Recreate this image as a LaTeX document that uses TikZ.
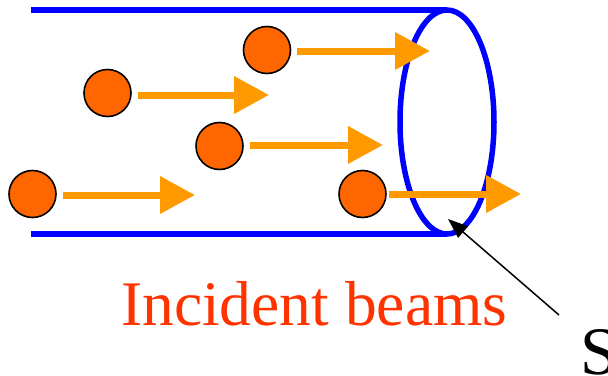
\documentclass[tikz,border=0pt]{standalone}
\usepackage{fontspec}
\setmainfont{Liberation Serif}
\usetikzlibrary{arrows.meta}
\definecolor{ballorange}{HTML}{FF6600}
\definecolor{beamorange}{HTML}{FF9900}
\definecolor{tubeblue}{HTML}{0000FF}
\definecolor{labelred}{HTML}{FF3300}
\tikzset{
  tube/.style={draw=tubeblue, line width=5.5pt},
  ball/.style={circle, minimum size=47pt, inner sep=0pt, fill=ballorange, draw=black, line width=1.6pt},
  beam/.style={draw=beamorange, line width=7pt, shorten <=6pt,
    -{Triangle[length=35pt, width=36pt, fill=beamorange]}},
  pointer/.style={draw=black, line width=1.5pt, -{Triangle[length=20pt, width=15pt]}},
}
\begin{document}
\begin{tikzpicture}[x=1pt, y=-1pt]
\useasboundingbox (0,0) rectangle (608,375);
% tube
\coordinate (tl) at (31,10);
\coordinate (tr) at (447,10);
\coordinate (bl) at (31,234);
\coordinate (br) at (447,234);
\draw[tube] (tl) -- (tr);
\draw[tube] (bl) -- (br);
\draw[tube] (447,122) ellipse [x radius=47, y radius=112];
% balls
\node[ball] (b1) at (267,50) {};
\node[ball] (b2) at (107.5,93) {};
\node[ball] (b3) at (219.5,146) {};
\node[ball] (b4) at (32.5,194) {};
\node[ball] (b5) at (362.5,194) {};
% beam tips
\coordinate (t1) at (430,51);
\coordinate (t2) at (269,95);
\coordinate (t3) at (383,145);
\coordinate (t4) at (195,195);
\coordinate (t5) at (521,194);
\draw[beam] (b1.east |- t1) -- (t1);
\draw[beam] (b2.east |- t2) -- (t2);
\draw[beam] (b3.east |- t3) -- (t3);
\draw[beam] (b4.east |- t4) -- (t4);
\draw[beam, shorten <=2pt] (b5.east |- t5) -- (t5);
% labels
\node[anchor=base west, inner sep=0pt, text=labelred, font=\fontsize{63.5}{64}\selectfont] (lbl) at (121,325) {Incident beams};
\node[anchor=base west, inner sep=0pt, font=\fontsize{68}{68}\selectfont] (s) at (580,374) {S};
\coordinate (ps) at (559,315);
\coordinate (pe) at (448,219);
\draw[pointer] (ps) -- (pe);
\end{tikzpicture}
\end{document}
